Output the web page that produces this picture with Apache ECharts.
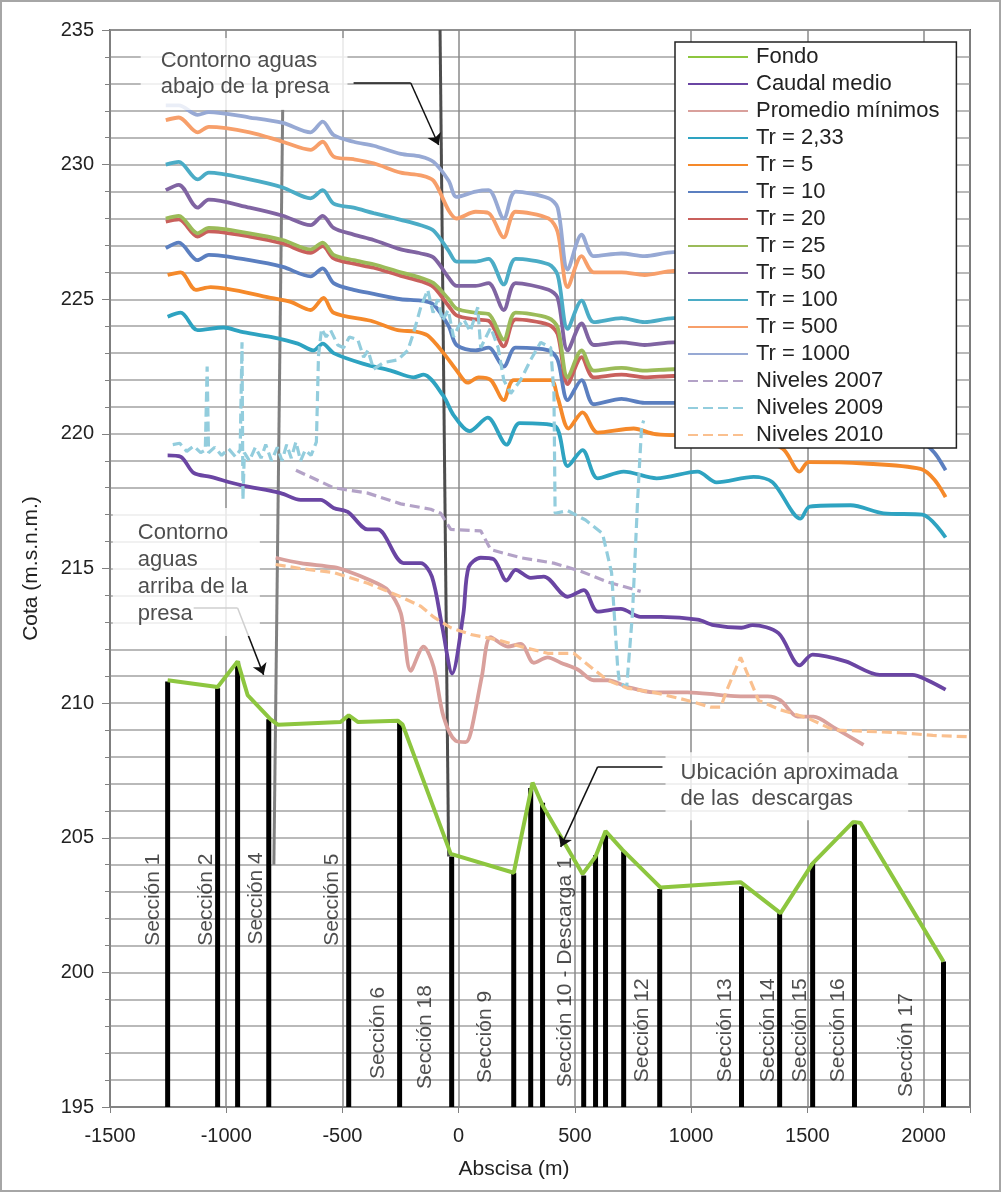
<!DOCTYPE html>
<html><head><meta charset="utf-8">
<script src="https://cdn.jsdelivr.net/npm/echarts@6.0.0/dist/echarts.min.js"></script>
<style>html,body{margin:0;padding:0;background:#fff}#c{width:1002px;height:1193px}</style>
</head><body><div id="c"></div>
<script>
// ---------- DATA ----------
const sectionX   = [-1252,-1037,-951,-817,-473,-254,-30,237,310,361,538,589,632,710,865,1217,1381,1523,1703,2086];
const sectionTop = [210.8,210.55,211.55,209.4,209.55,209.3,204.3,203.7,206.85,206.3,203.6,204.35,205.15,204.5,203.1,203.2,202.2,204.05,205.5,200.4];

const fondoX = [-1252,-1037,-951,-908,-809,-778,-508,-473,-434,-262,-241,-34,237,318,361,533,589,632,705,869,1213,1385,1523,1699,1729,2086];
const fondoY = [210.85,210.6,211.55,210.3,209.4,209.2,209.3,209.55,209.3,209.35,209.2,204.4,203.7,207.05,206.2,203.65,204.3,205.25,204.55,203.15,203.35,202.2,204.05,205.6,205.55,200.4];

const caudalMedio = [[-1252,219.2],[-1196,219.15],[-1140,218.55],[-1067,218.4],[-938,218.1],[-766,217.8],[-680,217.55],[-594,217.55],[-538,217.25],[-477,217.1],[-391,216.45],[-348,216.45],[-237,215.2],[-163,215.2],[-115,214.7],[-70,212.8],[-28,211.1],[20,213.3],[43,215.05],[95,215.4],[150,215.35],[206,214.55],[245,214.95],[310,214.65],[366,214.7],[469,213.95],[538,214.2],[598,213.4],[698,213.5],[783,213.2],[869,213.2],[1028,213.1],[1097,212.9],[1217,212.8],[1265,212.9],[1376,212.6],[1467,211.4],[1523,211.8],[1665,211.55],[1811,211.05],[1953,211.05],[2017,210.85],[2095,210.5]];

const promedioMinimos = [[-787,215.4],[-680,215.2],[-538,215.05],[-477,214.9],[-391,214.6],[-305,214.2],[-249,213.35],[-206,211.2],[-151,212.1],[-108,211.35],[-65,209.5],[-13,208.6],[30,208.55],[52,208.9],[100,211.0],[138,212.45],[211,212.1],[267,212.2],[323,211.5],[383,211.7],[439,211.5],[512,211.25],[581,210.85],[641,210.85],[727,210.6],[839,210.4],[985,210.4],[1127,210.3],[1213,210.25],[1329,210.25],[1385,210.1],[1458,209.5],[1527,209.5],[1613,209.1],[1742,208.45]];

const tr233 = [[-1252,224.35],[-1196,224.5],[-1123,223.85],[-1011,223.95],[-938,223.8],[-809,223.6],[-692,223.35],[-624,223.1],[-585,223.35],[-538,223.0],[-409,222.6],[-292,222.35],[-194,222.1],[-151,222.2],[-65,221.4],[-22,220.7],[47,220.1],[125,220.6],[206,219.6],[262,220.4],[413,220.3],[469,218.8],[533,219.4],[598,218.35],[710,218.6],[852,218.35],[1028,218.6],[1110,218.2],[1269,218.4],[1351,218.2],[1471,216.85],[1510,217.3],[1686,217.35],[1828,217.05],[1995,217.0],[2095,216.15]];

const tr5 = [[-1252,225.9],[-1196,226.0],[-1131,225.35],[-1067,225.45],[-809,225.05],[-723,224.9],[-637,224.6],[-581,225.05],[-538,224.5],[-378,224.2],[-262,223.85],[-185,223.8],[-133,223.65],[-65,223.0],[-4,222.3],[39,221.9],[86,222.1],[138,222.0],[194,221.25],[237,222.0],[396,222.0],[426,221.35],[473,220.2],[533,220.8],[598,220.05],[753,220.2],[839,220.0],[933,219.95],[1100,219.9],[1250,219.85],[1394,219.45],[1467,218.6],[1505,218.95],[1746,218.9],[1987,218.7],[2047,218.3],[2095,217.65]];

// common abscissas for the higher return-period profiles
const xTr = [-1260,-1204,-1123,-1075,-899,-757,-637,-585,-538,-452,-366,-249,-163,-108,-43,-9,73,129,194,245,387,426,469,529,581,701,800,925,1100,1250,1394,1467,1505,1746,1987,2047,2095];
const tr10   = [226.9,227.1,226.45,226.65,226.45,226.2,225.85,226.15,225.6,225.35,225.2,225.0,224.95,224.8,224.0,223.3,223.1,223.2,222.5,223.2,223.1,222.75,221.25,222.0,221.1,221.3,221.15,221.15,221.1,221.0,220.6,219.8,220.1,220.0,219.7,219.3,218.65];
const tr20   = [227.88,227.97,227.33,227.52,227.33,227.07,226.72,226.97,226.52,226.32,226.17,225.87,225.67,225.45,224.75,224.4,224.25,224.2,223.25,224.25,224.05,223.7,221.85,222.85,222.1,222.2,222.1,222.15,222.1,222.0,221.6,220.8,221.1,221.0,220.85,220.45,220.0];
const tr25   = [228.0,228.1,227.45,227.65,227.45,227.2,226.85,227.1,226.65,226.45,226.3,226.0,225.8,225.6,225.0,224.65,224.5,224.45,223.5,224.5,224.3,223.95,222.1,223.1,222.35,222.45,222.35,222.4,222.35,222.25,221.85,221.05,221.35,221.25,221.1,220.7,220.2];
const tr50   = [229.05,229.25,228.4,228.7,228.4,228.1,227.75,228.1,227.65,227.4,227.2,226.85,226.7,226.55,225.8,225.5,225.5,225.6,224.6,225.6,225.35,225.05,223.1,224.1,223.3,223.4,223.3,223.4,223.35,223.25,222.85,222.05,222.35,222.25,222.1,221.65,221.05];
const tr100  = [230.0,230.1,229.45,229.7,229.45,229.15,228.75,229.05,228.55,228.4,228.2,227.95,227.75,227.55,226.8,226.4,226.4,226.5,225.55,226.5,226.3,225.9,223.9,224.95,224.15,224.3,224.15,224.3,224.25,224.15,223.75,222.95,223.25,223.15,223.0,222.55,221.95];
const tr500  = [231.65,231.75,231.2,231.4,231.2,230.85,230.55,230.85,230.3,230.2,230.05,229.7,229.6,229.4,228.3,228.0,228.25,228.2,227.3,228.25,228.0,227.5,225.45,226.6,226.0,226.0,225.9,226.05,225.95,225.85,225.4,224.6,224.9,224.8,224.65,224.2,223.6];
const tr1000 = [232.2,232.2,231.85,231.95,231.75,231.55,231.2,231.6,231.1,230.85,230.7,230.4,230.3,230.1,229.4,228.8,229.0,229.05,228.0,229.0,228.75,228.4,226.1,227.4,226.6,226.7,226.6,226.75,226.7,226.6,226.2,225.4,225.7,225.6,225.45,225.0,224.4];

const niveles2007 = [[-700,218.65],[-538,218.0],[-391,217.8],[-249,217.4],[-120,217.2],[-77,217.05],[-34,216.45],[95,216.4],[138,215.7],[267,215.4],[409,215.2],[525,214.9],[641,214.5],[783,214.15]];

const niveles2009 = [[-1230,219.6],[-1200,219.65],[-1170,219.35],[-1140,219.55],[-1110,219.3],[-1090,219.4],[-1082,222.5],[-1076,219.3],[-1050,219.5],[-1020,219.2],[-990,219.45],[-960,219.15],[-940,219.4],[-932,223.4],[-928,217.55],[-922,219.3],[-900,219.0],[-875,219.5],[-850,219.1],[-830,219.6],[-805,219.0],[-780,219.5],[-760,219.0],[-740,219.6],[-720,219.1],[-700,219.7],[-680,219.0],[-660,219.4],[-635,219.2],[-612,219.7],[-603,222.9],[-590,223.9],[-570,223.6],[-551,223.85],[-520,223.3],[-495,223.2],[-470,223.6],[-434,223.5],[-409,222.85],[-390,223.1],[-366,222.4],[-323,222.65],[-262,222.75],[-219,223.1],[-194,223.75],[-163,224.7],[-133,225.35],[-110,224.5],[-90,225.0],[-70,224.2],[-45,224.6],[-22,223.6],[0,224.0],[22,224.25],[50,223.8],[82,224.7],[95,223.2],[138,223.95],[170,223.2],[194,222.0],[224,221.5],[267,222.0],[310,222.75],[353,223.4],[396,223.2],[410,221.5],[415,217.05],[469,217.15],[546,216.8],[619,216.3],[658,214.85],[684,211.35],[692,210.75],[723,210.6],[748,213.35],[770,217.55],[787,220.25],[796,220.5]];

const niveles2010 = [[-787,215.15],[-680,215.0],[-538,214.85],[-391,214.45],[-249,213.95],[-163,213.6],[-108,213.2],[-34,212.8],[52,212.55],[168,212.35],[267,212.1],[383,211.85],[495,211.85],[581,211.25],[641,210.85],[727,210.55],[839,210.4],[985,210.1],[1084,209.85],[1127,209.85],[1157,210.55],[1213,211.7],[1269,210.55],[1290,210.1],[1385,209.75],[1500,209.45],[1613,209.0],[1760,208.95],[1900,208.9],[2040,208.8],[2200,208.75]];

const contornoArriba = [[-757,232.05],[-795,204.0]];
const contornoAbajo  = [[-80,235],[-43,204.3]];

const sectionLabels = [['Sección 1',-1316,202.7],['Sección 2',-1084,202.7],['Sección 4',-869,202.75],['Sección 5',-546,202.7],['Sección 6',-344,197.75],['Sección 18',-142,197.6],['Sección 9',116,197.6],['Sección 10 - Descarga 1',460,200.0],['Sección 12',791,197.85],['Sección 13',1148,197.85],['Sección 14',1333,197.85],['Sección 15',1471,197.85],['Sección 16',1634,197.85],['Sección 17',1927,197.3]];

const annotations = [['Contorno aguas\nabajo de la presa',-1368,234.7],['Contorno\naguas\narriba de la\npresa',-1488,217.25],['Ubicación aproximada\nde las  descargas',890,208.18]];
const arrows = [[[-452,233.03],[-206,233.03],[-86,230.73]],[[-1140,213.53],[-951,213.53],[-839,211.05]],[[877,207.63],[598,207.63],[439,204.66]]];

const legendNames = ['Fondo','Caudal medio','Promedio mínimos','Tr = 2,33','Tr = 5','Tr = 10','Tr = 20','Tr = 25','Tr = 50','Tr = 100','Tr = 500','Tr = 1000','Niveles 2007','Niveles 2009','Niveles 2010'];
const xTicks = [-1500,-1000,-500,0,500,1000,1500,2000];
const Y_MIN = 195, Y_MAX = 235, X_MIN = -1500, X_MAX = 2200;

// ---------- CHART ----------
const FONT = 'Liberation Sans, Arial, sans-serif';
const zip = (xs, ys) => xs.map((x, i) => [x, ys[i]]);
function line(name, data, color, extra) {
  return Object.assign({
    name, type: 'line', data, symbol: 'none', smooth: 0.3,
    lineStyle: { color, width: 3.8 }, itemStyle: { color, opacity: 0 }, z: 3
  }, extra || {});
}
function dashed(name, data, color) {
  return line(name, data, color, { smooth: false, lineStyle: { color, width: 3.2, type: [10, 5] } });
}

const chart = echarts.init(document.getElementById('c'), null, { renderer: 'canvas' });
const gridLine = { color: '#a3a3a3', width: 1.5 };

const option = {
  animation: false,
  backgroundColor: '#fff',
  textStyle: { fontFamily: FONT },
  grid: { left: 110, right: 32, top: 30, bottom: 86, show: true, borderColor: '#595959', borderWidth: 2, backgroundColor: 'transparent' },
  xAxis: {
    type: 'value', min: X_MIN, max: X_MAX, interval: 500,
    name: 'Abscisa (m)', nameLocation: 'middle', nameGap: 52,
    nameTextStyle: { fontSize: 21, color: '#222', fontFamily: FONT, padding: [0, 52, 0, 0] },
    axisLine: { show: true, onZero: false, lineStyle: { color: '#808080', width: 1.5 } },
    axisTick: { show: true, length: 6, lineStyle: { color: '#808080' } },
    splitLine: { show: true, lineStyle: { color: '#8a8a8a', width: 1.5 } },
    axisLabel: { fontSize: 20, color: '#222', margin: 19, fontFamily: FONT,
      formatter: v => (xTicks.indexOf(v) >= 0 ? String(v) : '') }
  },
  yAxis: {
    type: 'value', min: Y_MIN, max: Y_MAX, interval: 5,
    name: 'Cota (m.s.n.m.)', nameLocation: 'middle', nameGap: 68,
    nameTextStyle: { fontSize: 21, color: '#222', fontFamily: FONT },
    axisLine: { show: true, onZero: false, lineStyle: { color: '#808080', width: 1.5 } },
    axisTick: { show: true, length: 8, lineStyle: { color: '#808080' } },
    minorTick: { show: true, splitNumber: 5, length: 5, lineStyle: { color: '#808080' } },
    splitLine: { show: true, lineStyle: gridLine },
    minorSplitLine: { show: true, lineStyle: gridLine },
    axisLabel: { fontSize: 20, color: '#222', margin: 16, fontFamily: FONT }
  },
  legend: {
    data: legendNames, orient: 'vertical', left: 675, top: 42,
    itemWidth: 60, itemHeight: 12, itemGap: 5,
    backgroundColor: '#fff', borderColor: '#222', borderWidth: 1.5,
    padding: [4, 17, 2, 12], z: 10,
    itemStyle: { opacity: 0 },
    textStyle: { fontSize: 22, lineHeight: 22, color: '#222', fontFamily: FONT, padding: [0, 0, 0, 3] }
  },
  graphic: [{ type: 'rect', shape: { x: 1, y: 1, width: 999, height: 1190 }, style: { fill: null, stroke: '#a6a6a6', lineWidth: 2 }, silent: true }],
  series: [
    {
      name: 'secciones', type: 'custom', z: 2,
      data: zip(sectionX, sectionTop),
      encode: { x: 0, y: 1 },
      renderItem: (params, api) => {
        const top = api.coord([api.value(0), api.value(1)]);
        const base = api.coord([api.value(0), Y_MIN]);
        return { type: 'rect', shape: { x: top[0] - 2.5, y: top[1], width: 5, height: base[1] - top[1] }, style: { fill: '#000' } };
      }
    },
    { name: 'contorno arriba', type: 'line', data: contornoArriba, symbol: 'none', lineStyle: { color: '#808080', width: 3 }, z: 2 },
    { name: 'contorno abajo', type: 'line', data: contornoAbajo, symbol: 'none', lineStyle: { color: '#4d4d4d', width: 3 }, z: 2 },
    line('Fondo', zip(fondoX, fondoY), '#8dc63f', { smooth: false, lineStyle: { color: '#8dc63f', width: 4 } }),
    line('Caudal medio', caudalMedio, '#6a45a3'),
    line('Promedio mínimos', promedioMinimos, '#d9a09c'),
    line('Tr = 2,33', tr233, '#2ea3c1'),
    line('Tr = 5', tr5, '#f5892a'),
    line('Tr = 10', zip(xTr, tr10), '#5b7fc0'),
    line('Tr = 20', zip(xTr, tr20), '#c9605c'),
    line('Tr = 25', zip(xTr, tr25), '#9bbb59'),
    line('Tr = 50', zip(xTr, tr50), '#8064a2'),
    line('Tr = 100', zip(xTr, tr100), '#4bacc6'),
    line('Tr = 500', zip(xTr, tr500), '#f79f6a'),
    line('Tr = 1000', zip(xTr, tr1000), '#97a9d4'),
    dashed('Niveles 2007', niveles2007, '#b3a2c7'),
    dashed('Niveles 2009', niveles2009, '#93cddd'),
    dashed('Niveles 2010', niveles2010, '#fac08f'),
    {
      name: 'etiquetas', type: 'scatter', symbolSize: 0, z: 6, silent: true,
      data: sectionLabels.map(s => ({ value: [s[1], s[2]], name: s[0] })),
      label: { show: true, position: 'inside', rotate: 90, formatter: p => p.name, fontSize: 21, color: '#222', fontFamily: FONT }
    },
    {
      name: 'anotaciones', type: 'scatter', symbolSize: 0, z: 8, silent: true,
      data: annotations.map((a, i) => ({
        value: [a[1], a[2]], name: a[0],
        label: {
          show: true, position: [0, 0], align: 'left', verticalAlign: 'top',
          formatter: p => p.name, fontSize: 22, color: '#222', fontFamily: FONT,
          backgroundColor: '#fff',
          lineHeight: i === 1 ? 27 : 26,
          padding: i === 0 ? [10, 18, 10, 20] : (i === 1 ? [12, 12, 8, 25] : [8, 10, 8, 15])
        }
      })),
      markLine: {
        silent: true, animation: false, symbolSize: 11,
        lineStyle: { color: '#111', width: 1.5, type: 'solid' }, label: { show: false },
        data: arrows.flatMap(a => [
          [{ coord: a[0], symbol: 'none' }, { coord: a[1], symbol: 'none' }],
          [{ coord: a[1], symbol: 'none' }, { coord: a[2], symbol: 'arrow' }]
        ])
      }
    }
  ]
};
chart.setOption(option);
</script></body></html>
